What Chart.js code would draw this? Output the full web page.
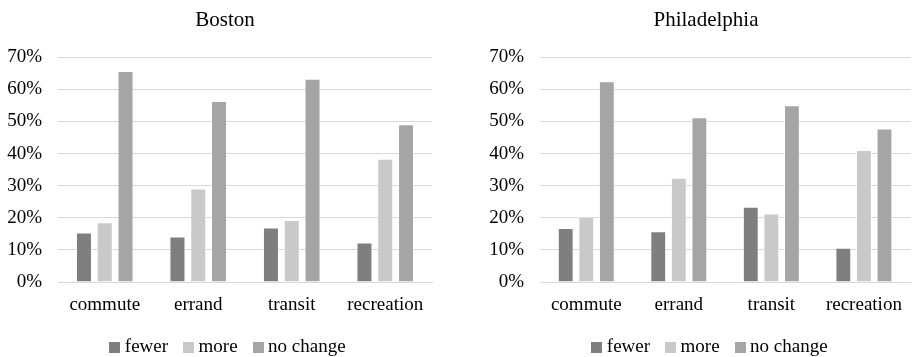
<!DOCTYPE html>
<html>
<head>
<meta charset="utf-8">
<script src="https://cdn.jsdelivr.net/npm/chart.js@4"></script>
<style>
  html, body { margin: 0; padding: 0; background: #fff; overflow: hidden; }
  .panel { position: absolute; top: 0; width: 457px; height: 357px; }
  #left { left: 0; }
  #right { left: 457px; }
</style>
</head>
<body>
<div class="panel" id="left"><canvas id="boston"></canvas></div>
<div class="panel" id="right"><canvas id="philly"></canvas></div>
<script>
// Survey categories and answer shares (percent)
const categories = ['commute', 'errand', 'transit', 'recreation'];
const seriesNames = ['fewer', 'more', 'no change'];

const bostonFewer    = [15.4, 14.2, 17.0, 12.3];
const bostonMore     = [18.6, 29.1, 19.3, 38.4];
const bostonNoChange = [65.7, 56.4, 63.3, 49.1];

const phillyFewer    = [16.8, 15.8, 23.4, 10.7];
const phillyMore     = [20.3, 32.5, 21.3, 41.1];
const phillyNoChange = [62.5, 51.3, 55.0, 47.8];

// value axis: 0% to 70% in steps of 10
const yMin = 0, yMax = 70, yStep = 10;

const seriesColors = ['#7f7f7f', '#c9c9c9', '#a5a5a5'];
const serif = "'Liberation Serif', 'Times New Roman', serif";

Chart.defaults.color = '#000';
Chart.defaults.font.family = serif;

// small square swatches used as legend markers
function swatch(color) {
  const c = document.createElement('canvas');
  c.width = 11; c.height = 11;
  const g = c.getContext('2d');
  g.fillStyle = color;
  g.fillRect(0, 0, 11, 11);
  return c;
}
const swatches = seriesColors.map(swatch);

// let the percent labels extend past the narrow axis box, and nudge the legend
const layoutTweaks = {
  id: 'layoutTweaks',
  afterLayout(chart, args, opts) {
    chart.scales.y.left = 0;
    if (chart.legend) {
      chart.legend.left += opts.legendShift || 0;
      chart.legend.right += opts.legendShift || 0;
    }
  }
};

function makeChart(id, title, fewer, more, noChange, padLeft, padRight, axisWidth, legendShift) {
  const values = [fewer, more, noChange];
  return new Chart(document.getElementById(id), {
    type: 'bar',
    data: {
      labels: categories,
      datasets: seriesNames.map((name, i) => ({
        label: name,
        data: values[i],
        backgroundColor: seriesColors[i],
        borderColor: 'rgba(255,255,255,0.45)',
        borderWidth: 1,
        categoryPercentage: 0.667,
        barPercentage: 0.77
      }))
    },
    plugins: [layoutTweaks],
    options: {
      responsive: true,
      maintainAspectRatio: false,
      animation: false,
      layout: { padding: { left: padLeft, right: padRight, top: 0, bottom: -10 } },
      plugins: {
        layoutTweaks: { legendShift },
        title: {
          display: true,
          text: title,
          font: { size: 21, weight: 'normal', family: serif },
          padding: { top: 8, bottom: 24 }
        },
        legend: {
          position: 'bottom',
          labels: {
            usePointStyle: true,
            boxWidth: 1,
            padding: 20,
            font: { size: 19, family: serif },
            generateLabels: (chart) => {
              const items = Chart.defaults.plugins.legend.labels.generateLabels(chart);
              items.forEach((it, i) => { it.pointStyle = swatches[i]; });
              return items;
            }
          }
        },
        tooltip: { enabled: false }
      },
      scales: {
        x: {
          afterFit: (scale) => { scale.height = 36; },
          grid: { display: false, drawTicks: false },
          border: { display: true, color: '#d9d9d9', width: 1 },
          ticks: { padding: 12, font: { size: 19, family: serif } }
        },
        y: {
          min: yMin,
          max: yMax,
          afterFit: (scale) => { scale.width = axisWidth; },
          grid: { color: '#d9d9d9', lineWidth: 1, drawTicks: false },
          border: { display: false },
          ticks: {
            stepSize: yStep,
            padding: 16,
            font: { size: 19, family: serif },
            callback: (v) => v + '%'
          }
        }
      }
    }
  });
}

makeChart('boston', 'Boston', bostonFewer, bostonMore, bostonNoChange, 18, 25, 40, 5);
makeChart('philly', 'Philadelphia', phillyFewer, phillyMore, phillyNoChange, 42, 1, 41, 6);
</script>
</body>
</html>
